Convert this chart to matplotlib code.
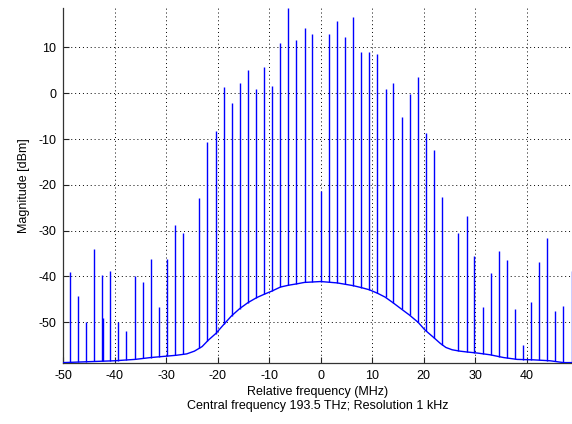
import numpy as np
import matplotlib
matplotlib.use("Agg")
import matplotlib.pyplot as plt

plt.rcParams['font.family'] = ['Liberation Sans', 'DejaVu Sans']
plt.rcParams['axes.unicode_minus'] = False

# Comb lines: offset from the central frequency (MHz) and peak level (dBm)
line_freq = [-48.7, -47.1, -45.5, -44.0, -42.4, -42.2, -40.8, -39.25, -37.7,
             -36.1, -34.5, -33.0, -31.4, -29.8, -28.3, -26.7, -23.55, -22.0,
             -20.4, -18.8, -17.3, -15.7, -14.1, -12.6, -11.0, -9.4, -7.85,
             -6.3, -4.7, -3.1, -1.6, 0.0, 1.6, 3.1, 4.7, 6.3, 7.85, 9.4, 11.0,
             12.6, 14.1, 15.7, 17.3, 18.8, 20.4, 22.0, 23.55, 26.7, 28.3, 29.8,
             31.4, 33.0, 34.5, 36.1, 37.7, 39.25, 40.8, 42.4, 44.0, 45.5, 47.1,
             48.7]
line_level = [-39.0, -44.2, -50.0, -33.9, -39.7, -49.1, -38.8, -50.0, -51.8,
              -40.0, -41.1, -36.2, -46.7, -36.2, -28.8, -30.4, -22.9, -10.6,
              -8.2, 1.3, -2.05, 2.2, 5.1, 0.9, 5.8, 1.6, 10.9,
              18.6, 11.6, 14.2, 12.9, -21.3, 12.9, 15.85, 12.4, 16.6, 9.1, 9.1, 8.6,
              0.9, 2.3, -5.2, -0.2, 3.5, -8.7, -12.4, -22.7, -30.6, -26.9, -35.5,
              -46.7, -39.2, -34.4, -36.4, -47.1, -55.0, -45.5, -36.8, -31.5, -47.5, -46.4,
              -38.7]

# Noise floor of the spectrum
floor_freq = [-50, -45, -40, -36, -33, -30, -28, -26, -24.5, -23.0, -21.8,
              -20.3, -18.9, -17.3, -15.7, -14.1, -12.4, -11.0, -9.5, -7.8,
              -6.2, -4.6, -3.2, 0, 3.2, 6.3, 7.8, 9.45, 11.1, 12.5, 14.0, 15.65,
              17.2, 18.9, 20.25, 21.9, 23.2, 24.3, 25.5, 27.0, 28.5, 30.3, 32.9,
              35.5, 38.1, 41.3, 44.5, 47.1, 49]
floor_db = [-58.8, -58.6, -58.4, -58.1, -57.7, -57.4, -57.2, -56.9, -56.3,
            -55.3, -53.9, -52.4, -50.6, -48.6, -47.0, -45.7, -44.6, -43.9,
            -43.2, -42.3, -41.9, -41.6, -41.3, -41.1, -41.4, -42.0, -42.4,
            -42.9, -43.7, -44.5, -45.7, -47.1, -48.4, -50.0, -51.7, -53.3,
            -54.6, -55.5, -56.0, -56.3, -56.5, -56.7, -57.1, -57.7, -58.1,
            -58.2, -58.4, -58.8, -58.8]

x_ticks = [-50, -40, -30, -20, -10, 0, 10, 20, 30, 40]
y_ticks = [-50, -40, -30, -20, -10, 0, 10]

fig = plt.figure(figsize=(5.72, 4.24), dpi=100)
ax = fig.add_axes([0.1101, 0.1432, 0.8899, 0.8379])

blue = (0, 0, 1)
ax.plot(floor_freq, floor_db, color=blue, lw=1.0, zorder=3)
base = np.interp(line_freq, floor_freq, floor_db)
ax.vlines(line_freq, base, line_level, color=blue, lw=1.0, zorder=3)

ax.set_xlim(-50, 48.76)
ax.set_ylim(-58.95, 18.62)
ax.set_xticks(x_ticks)
ax.set_yticks(y_ticks)

ax.grid(True, color='black', linestyle=(0, (1, 3)), linewidth=0.7)
ax.set_axisbelow(True)

for side in ('top', 'right'):
    ax.spines[side].set_visible(False)
for side in ('left', 'bottom'):
    ax.spines[side].set_color('#333333')
    ax.spines[side].set_linewidth(0.9)

ax.tick_params(direction='in', length=4, width=0.8, labelsize=9, pad=5,
               colors='#222222', labelcolor='black')

ax.set_xlabel('Relative frequency (MHz)\nCentral frequency 193.5 THz; Resolution 1 kHz',
              fontsize=9, labelpad=3, linespacing=1.15)
ax.set_ylabel('Magnitude [dBm]', fontsize=9, labelpad=6)

fig.savefig('out.png', dpi=100)
